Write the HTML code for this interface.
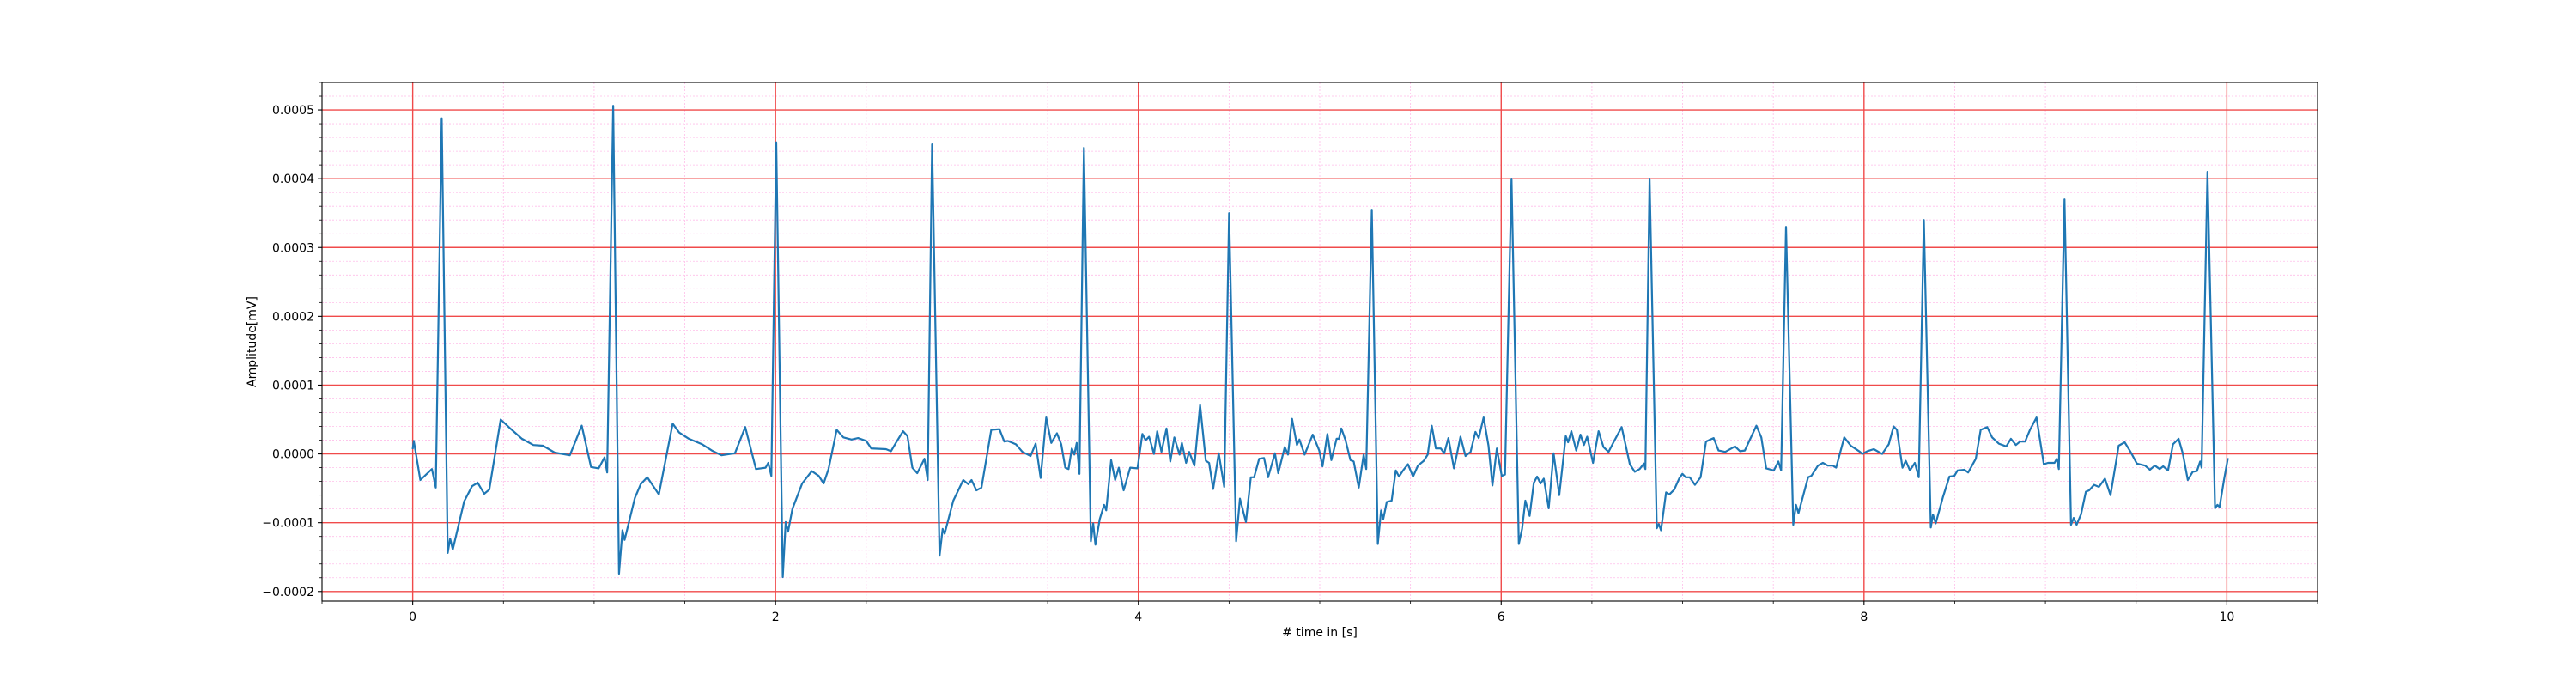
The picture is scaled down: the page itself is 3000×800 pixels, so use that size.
<!DOCTYPE html>
<html><head><meta charset="utf-8"><style>
html,body{margin:0;padding:0;background:#fff;}
svg{display:block;font-family:"DejaVu Sans","Liberation Sans",sans-serif;}
</style></head><body>
<svg id="chart" width="3000" height="800" viewBox="0 0 3000 800" xmlns="http://www.w3.org/2000/svg">
<rect x="0" y="0" width="3000" height="800" fill="#fff"/>
<g id="grid"></g>
<g id="series"></g>
<g id="axes"></g>
</svg>
<script>
// Data: time (s) and amplitude (x1e-5 mV)
const times = [0,0.006,0.042,0.106,0.127,0.16,0.193,0.206,0.221,0.284,0.327,0.358,0.394,0.422,0.485,0.538,0.602,0.665,0.718,0.782,0.866,0.932,0.983,1.025,1.057,1.072,1.105,1.137,1.156,1.168,1.225,1.257,1.293,1.357,1.433,1.469,1.522,1.596,1.649,1.702,1.776,1.833,1.892,1.945,1.96,1.977,2.004,2.04,2.056,2.069,2.093,2.147,2.2,2.238,2.265,2.292,2.337,2.374,2.419,2.455,2.5,2.528,2.609,2.636,2.663,2.703,2.727,2.754,2.781,2.821,2.839,2.863,2.904,2.921,2.932,2.98,3.035,3.062,3.08,3.107,3.135,3.189,3.234,3.261,3.28,3.325,3.361,3.406,3.434,3.461,3.492,3.52,3.551,3.575,3.597,3.615,3.633,3.647,3.66,3.675,3.70,3.738,3.751,3.763,3.787,3.811,3.823,3.85,3.872,3.892,3.919,3.955,3.995,4.022,4.04,4.059,4.086,4.104,4.127,4.155,4.176,4.198,4.227,4.24,4.263,4.28,4.309,4.34,4.372,4.39,4.412,4.443,4.473,4.50,4.539,4.56,4.593,4.62,4.638,4.666,4.693,4.715,4.753,4.771,4.807,4.825,4.847,4.874,4.888,4.916,4.961,4.997,5.015,5.042,5.064,5.093,5.106,5.119,5.142,5.169,5.187,5.215,5.242,5.256,5.287,5.32,5.338,5.35,5.369,5.396,5.419,5.437,5.459,5.486,5.514,5.541,5.573,5.595,5.617,5.64,5.667,5.686,5.709,5.74,5.776,5.803,5.831,5.858,5.876,5.903,5.93,5.952,5.976,6.003,6.021,6.057,6.097,6.115,6.133,6.157,6.18,6.198,6.217,6.235,6.262,6.289,6.32,6.356,6.369,6.387,6.414,6.437,6.456,6.474,6.506,6.537,6.564,6.592,6.619,6.664,6.709,6.736,6.763,6.787,6.795,6.818,6.858,6.869,6.881,6.909,6.927,6.954,6.981,6.999,7.017,7.039,7.068,7.099,7.129,7.153,7.171,7.198,7.235,7.289,7.316,7.343,7.407,7.434,7.461,7.503,7.528,7.543,7.57,7.61,7.625,7.639,7.692,7.71,7.746,7.773,7.8,7.828,7.846,7.891,7.927,7.973,7.991,8.018,8.054,8.1,8.136,8.163,8.181,8.212,8.23,8.253,8.28,8.302,8.33,8.368,8.38,8.395,8.435,8.471,8.498,8.516,8.553,8.574,8.616,8.643,8.679,8.706,8.743,8.784,8.81,8.837,8.86,8.888,8.915,8.951,8.991,9.014,9.05,9.063,9.074,9.105,9.141,9.156,9.172,9.196,9.223,9.241,9.268,9.295,9.328,9.359,9.404,9.437,9.467,9.504,9.549,9.576,9.603,9.63,9.649,9.676,9.703,9.734,9.757,9.785,9.812,9.835,9.853,9.861,9.893,9.935,9.948,9.96,9.984,10.006];
const amplitudes = [0.7,1.9,-3.8,-2.2,-4.9,48.8,-14.4,-12.3,-13.9,-6.9,-4.7,-4.2,-5.8,-5.2,5,3.7,2.2,1.3,1.2,0.2,-0.2,4.1,-1.9,-2.1,-0.5,-2.7,50.6,-17.4,-11.1,-12.5,-6.4,-4.4,-3.4,-5.9,4.4,3.1,2.2,1.4,0.5,-0.2,0.1,3.9,-2.2,-2,-1.3,-3.2,45.3,-17.9,-9.9,-11.3,-8,-4.3,-2.5,-3.2,-4.3,-2.2,3.5,2.4,2.1,2.3,1.9,0.8,0.7,0.4,1.6,3.3,2.6,-2,-2.8,-0.7,-3.8,45,-14.8,-10.9,-11.6,-6.8,-3.8,-4.4,-3.8,-5.3,-4.9,3.5,3.6,1.8,1.9,1.4,0.3,-0.3,1.5,-3.5,5.3,1.6,3,1.4,-2,-2.2,0.8,-0.1,1.6,-2.9,44.5,-12.7,-10.1,-13.2,-9.5,-7.4,-8.2,-0.9,-3.8,-2,-5.3,-2,-2.1,2.9,2,2.5,0,3.3,0.3,3.7,-1.1,2.4,-0.1,1.6,-1.3,0.3,-1.7,7.1,-1,-1.3,-5.1,0.1,-4.8,35,-12.7,-6.5,-9.9,-3.4,-3.4,-0.7,-0.6,-3.4,0.1,-2.8,1,-0.1,5.1,1.3,2.1,-0.1,2.8,0.5,-1.8,2.9,-0.9,2.2,2.2,3.7,2,-0.9,-1.1,-4.9,-0.1,-2.2,35.5,-13.1,-8.2,-9.5,-7,-6.8,-2.4,-3.3,-2.4,-1.5,-3.3,-1.7,-1,-0.1,4.1,0.8,0.8,0.1,2.3,-2.1,2.5,-0.3,0.3,3.2,2.3,5.3,1.2,-4.6,0.8,-3.2,-3,40,-13.1,-10.9,-6.8,-9,-4.2,-3.3,-4.3,-3.6,-7.9,0.1,-6,2.6,1.7,3.3,0.5,2.8,1.3,2.5,-1.3,3.3,1,0.3,1.7,3.9,-1.5,-2.6,-2.2,-1.4,-2.2,40,-10.8,-10.2,-11.1,-5.6,-5.9,-5.2,-3.6,-2.9,-3.4,-3.4,-4.5,-3.4,1.8,2.1,2.3,0.5,0.3,1.1,0.4,0.5,4.1,2.4,-2.1,-2.4,-1.1,-2.4,33,-10.3,-7.4,-8.6,-3.4,-3.2,-1.7,-1.3,-1.7,-1.7,-2,2.4,1.2,0.4,0,0.4,0.7,0,1.4,4,3.5,-2,-1,-2.4,-1.3,-3.4,34,-10.7,-8.8,-10.1,-6.3,-3.3,-3.2,-2.4,-2.3,-2.7,-0.7,3.5,3.9,2.4,1.5,1.1,2.2,1.3,1.8,1.8,3.5,5.3,-1.5,-1.3,-1.3,-0.7,-2.2,37,-10.3,-9.3,-10.3,-8.8,-5.5,-5.3,-4.5,-4.8,-3.6,-6,1.2,1.7,0.4,-1.4,-1.7,-2.3,-1.7,-2.2,-1.8,-2.4,1.4,2.2,0.1,-3.8,-2.6,-2.5,-1.1,-2,41,-7.9,-7.4,-7.7,-3.8,-0.6];
const xTickValues = [0,2,4,6,8,10];
const xTickLabels = ["0","2","4","6","8","10"];
const yTickValues = [-0.0002,-0.0001,0,0.0001,0.0002,0.0003,0.0004,0.0005];
const yTickLabels = ["\u22120.0002","\u22120.0001","0.0000","0.0001","0.0002","0.0003","0.0004","0.0005"];

const NS="http://www.w3.org/2000/svg";
const L=375,R=2699,T=96,B=700;
const xMin=-0.5,xMax=10.5,yMin=-0.000214,yMax=0.00054;
const xs=v=>L+(v-xMin)/(xMax-xMin)*(R-L);
const ys=v=>B-(v-yMin)/(yMax-yMin)*(B-T);
function mk(tag,attrs,parent){const e=document.createElementNS(NS,tag);for(const k in attrs)e.setAttribute(k,attrs[k]);parent.appendChild(e);return e;}
const grid=document.getElementById('grid'),axes=document.getElementById('axes'),series=document.getElementById('series');

// minor grid
for(let i=-10;i<=27;i++){const v=i*0.00002;if(v<yMin||v>yMax)continue;if(i%5===0)continue;
 const e=mk('line',{x1:L,x2:R,y1:ys(v),y2:ys(v),stroke:'#ffbde9','stroke-width':0.8,'stroke-dasharray':'2,2'},grid);
 
 }
for(let i=-1;i<=21;i++){const v=i*0.5;if(v<xMin||v>xMax)continue;if(i%4===0)continue;
 const e=mk('line',{x1:xs(v),x2:xs(v),y1:T,y2:B,stroke:'#ffbde9','stroke-width':0.8,'stroke-dasharray':'2,2'},grid);
 
 }
// major grid
yTickValues.forEach(v=>{const e=mk('line',{x1:L,x2:R,y1:ys(v),y2:ys(v),stroke:'#f04a4a','stroke-width':1.4},grid);
 
 });
xTickValues.forEach(v=>{const e=mk('line',{x1:xs(v),x2:xs(v),y1:T,y2:B,stroke:'#f04a4a','stroke-width':1.4},grid);
 
 });

// series
const pts=times.map((t,i)=>xs(t).toFixed(1)+','+ys(amplitudes[i]*1e-5).toFixed(1)).join(' ');
const line=mk('polyline',{points:pts,fill:'none',stroke:'#1f77b4','stroke-width':2.2,'stroke-linejoin':'round'},series);



// spines
const sp=mk('rect',{x:L,y:T,width:R-L,height:B-T,fill:'none',stroke:'#000','stroke-width':1.1},axes);


// ticks
xTickValues.forEach((v,i)=>{
 mk('line',{x1:xs(v),x2:xs(v),y1:B,y2:B+5,stroke:'#000','stroke-width':1.1},axes);
 const t=mk('text',{x:xs(v),y:B+23,'font-size':14,'text-anchor':'middle',fill:'#000'},axes);
 t.textContent=xTickLabels[i];
 
 });
for(let i=-1;i<=21;i++){const v=i*0.5;if(i%4===0)continue;mk('line',{x1:xs(v),x2:xs(v),y1:B,y2:B+3,stroke:'#000','stroke-width':0.8},axes);}
yTickValues.forEach((v,i)=>{
 mk('line',{x1:L-5,x2:L,y1:ys(v),y2:ys(v),stroke:'#000','stroke-width':1.1},axes);
 const t=mk('text',{x:L-9,y:ys(v)+5,'font-size':14,'text-anchor':'end',fill:'#000'},axes);
 t.textContent=yTickLabels[i];
 
 });
for(let i=-10;i<=27;i++){const v=i*0.00002;if(v<yMin||v>yMax||i%5===0)continue;mk('line',{x1:L-3,x2:L,y1:ys(v),y2:ys(v),stroke:'#000','stroke-width':0.8},axes);}
const xl=mk('text',{x:(L+R)/2,y:741,'font-size':14,'text-anchor':'middle',fill:'#000'},axes);
xl.textContent='# time in [s]';


const yl=mk('text',{x:0,y:0,'font-size':14,'text-anchor':'middle',fill:'#000',transform:'translate(298,'+((T+B)/2)+') rotate(-90)'},axes);
yl.textContent='Amplitude[mV]';


</script>
</body></html>
